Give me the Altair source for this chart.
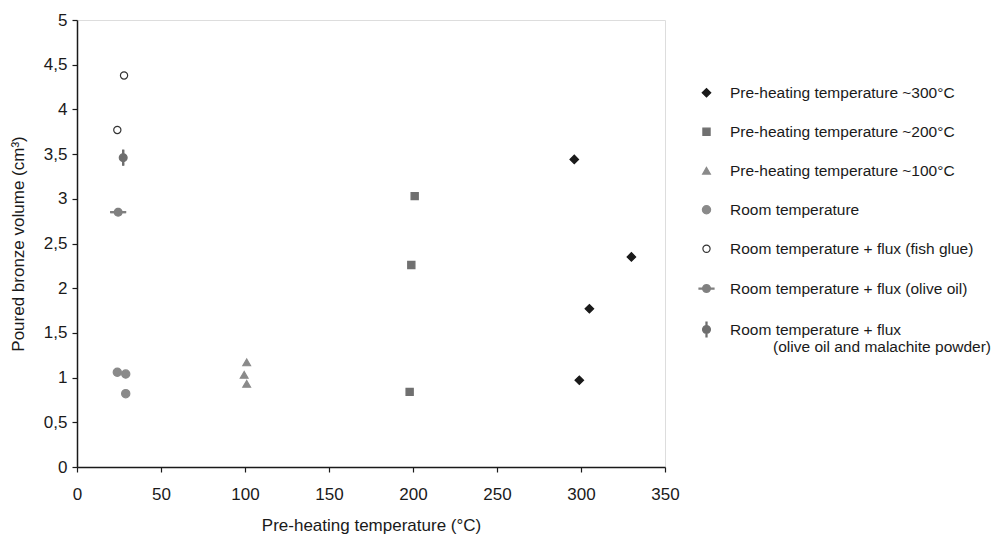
import math
import altair as alt
import pandas as pd

# ---- data ----
INDENT = "\u200d" + "\u00a0" * 10
series_names = [
    "Pre-heating temperature ~300°C",
    "Pre-heating temperature ~200°C",
    "Pre-heating temperature ~100°C",
    "Room temperature",
    "Room temperature + flux (fish glue)",
    "Room temperature + flux (olive oil)",
    "Room temperature + flux|" + INDENT + "(olive oil and malachite powder)",
]

t300_x = [296, 330, 305, 299]
t300_y = [3.44, 2.35, 1.77, 0.97]

t200_x = [201, 199, 198]
t200_y = [3.03, 2.26, 0.84]

t100_x = [101, 99.5, 101]
t100_y = [1.17, 1.03, 0.93]

room_x = [24, 29, 29]
room_y = [1.06, 1.04, 0.82]

fish_x = [28, 24]
fish_y = [4.38, 3.77]

olive_x = [24.5]
olive_y = [2.85]
olive_xerr = [4.5]

mal_x = [27.5]
mal_y = [3.46]
mal_yerr = [0.085]

x_ticks = [0, 50, 100, 150, 200, 250, 300, 350]
y_ticks = [0, 0.5, 1, 1.5, 2, 2.5, 3, 3.5, 4, 4.5, 5]

# ---- tables ----
groups = [t300_x, t200_x, t100_x, room_x, fish_x, olive_x, mal_x]
groups_y = [t300_y, t200_y, t100_y, room_y, fish_y, olive_y, mal_y]
rows = []
for name, xs, ys in zip(series_names, groups, groups_y):
    for xv, yv in zip(xs, ys):
        rows.append({"series": name, "x": xv, "y": yv})
df = pd.DataFrame(rows)

err_rows = []
for xv, yv, e in zip(olive_x, olive_y, olive_xerr):
    err_rows.append({"series": series_names[5], "x": xv - e, "x2": xv + e, "y": yv, "y2": yv})
for xv, yv, e in zip(mal_x, mal_y, mal_yerr):
    err_rows.append({"series": series_names[6], "x": xv, "x2": xv, "y": yv - e, "y2": yv + e})
err_df = pd.DataFrame(err_rows)

# custom marker glyphs (unit square -1..1): polygon circle plus a thin bar
R = 0.52
N = 24
pts = [(R * math.cos(2 * math.pi * k / N), R * math.sin(2 * math.pi * k / N)) for k in range(N)]
CIRCLE = "M" + " L".join(f"{px:.4f},{py:.4f}" for px, py in pts) + " Z "
OLIVE = CIRCLE + "M-1,-0.07 L1,-0.07 L1,0.07 L-1,0.07 Z"
MAL = CIRCLE + "M-0.07,-1 L0.07,-1 L0.07,1 L-0.07,1 Z"

shape_range = ["diamond", "square", "triangle-up", "circle", "circle", OLIVE, MAL]
fill_range = ["#1a1a1a", "#707070", "#8a8a8a", "#8a8a8a", "#ffffff", "#808080", "#6e6e6e"]
stroke_range = ["#1a1a1a", "#707070", "#8a8a8a", "#8a8a8a", "#333333", "#808080", "#6e6e6e"]
size_range = [72, 52, 60, 68, 52, 225, 225]

FONT = "Liberation Sans"

legend = alt.Legend(
    title=None, orient="none", legendX=621, legendY=65,
    labelFontSize=15.5, labelFont=FONT, labelColor="#1a1a1a",
    labelOffset=15, rowPadding=22, labelLimit=400, padding=0,
    labelExpr="split(datum.label, '|')", symbolStrokeWidth=1.2,
)

x_enc = alt.X(
    "x:Q", scale=alt.Scale(domain=[0, 350], nice=False),
    axis=alt.Axis(
        values=x_ticks, title="Pre-heating temperature (°C)", grid=False,
        domainColor="#1a1a1a", tickColor="#1a1a1a", tickSize=5, domainWidth=1.5, tickWidth=1.2,
        labelFontSize=17, titleFontSize=17, labelFont=FONT, titleFont=FONT,
        labelColor="#1a1a1a", titleColor="#1a1a1a", titleFontWeight="normal",
        labelPadding=14, titlePadding=15, labelFlush=False,
    ),
)
y_enc = alt.Y(
    "y:Q", scale=alt.Scale(domain=[0, 5], nice=False),
    axis=alt.Axis(
        values=y_ticks, title="Poured bronze volume (cm³)", grid=False,
        labelExpr="replace(toString(datum.value), '.', ',')",
        domainColor="#1a1a1a", tickColor="#1a1a1a", tickSize=5, domainWidth=1.5, tickWidth=1.2,
        labelFontSize=17, titleFontSize=17, labelFont=FONT, titleFont=FONT,
        labelColor="#1a1a1a", titleColor="#1a1a1a", titleFontWeight="normal",
        labelPadding=5, titlePadding=16, labelFlush=False,
    ),
)

points = alt.Chart(df).mark_point(filled=False, strokeWidth=1.2, opacity=1).encode(
    x=x_enc,
    y=y_enc,
    shape=alt.Shape("series:N", scale=alt.Scale(domain=series_names, range=shape_range), legend=legend),
    fill=alt.Fill("series:N", scale=alt.Scale(domain=series_names, range=fill_range), legend=legend),
    stroke=alt.Stroke("series:N", scale=alt.Scale(domain=series_names, range=stroke_range), legend=legend),
    size=alt.Size("series:N", scale=alt.Scale(type="ordinal", domain=series_names, range=size_range), legend=legend),
)

errs = alt.Chart(err_df).mark_rule(strokeWidth=2).encode(
    x="x:Q", x2="x2:Q", y="y:Q", y2="y2:Q",
    stroke=alt.Stroke("series:N", scale=alt.Scale(domain=series_names, range=stroke_range), legend=legend),
)

chart = alt.layer(errs, points).properties(
    width=588, height=447,
    autosize=alt.AutoSizeParams(type="none"),
    padding={"left": 69, "top": 12, "right": 330, "bottom": 72},
).configure_view(stroke="#555555", strokeWidth=1).configure(background="white")

chart.save("out.html", embed_options={"renderer": "svg", "actions": False})
